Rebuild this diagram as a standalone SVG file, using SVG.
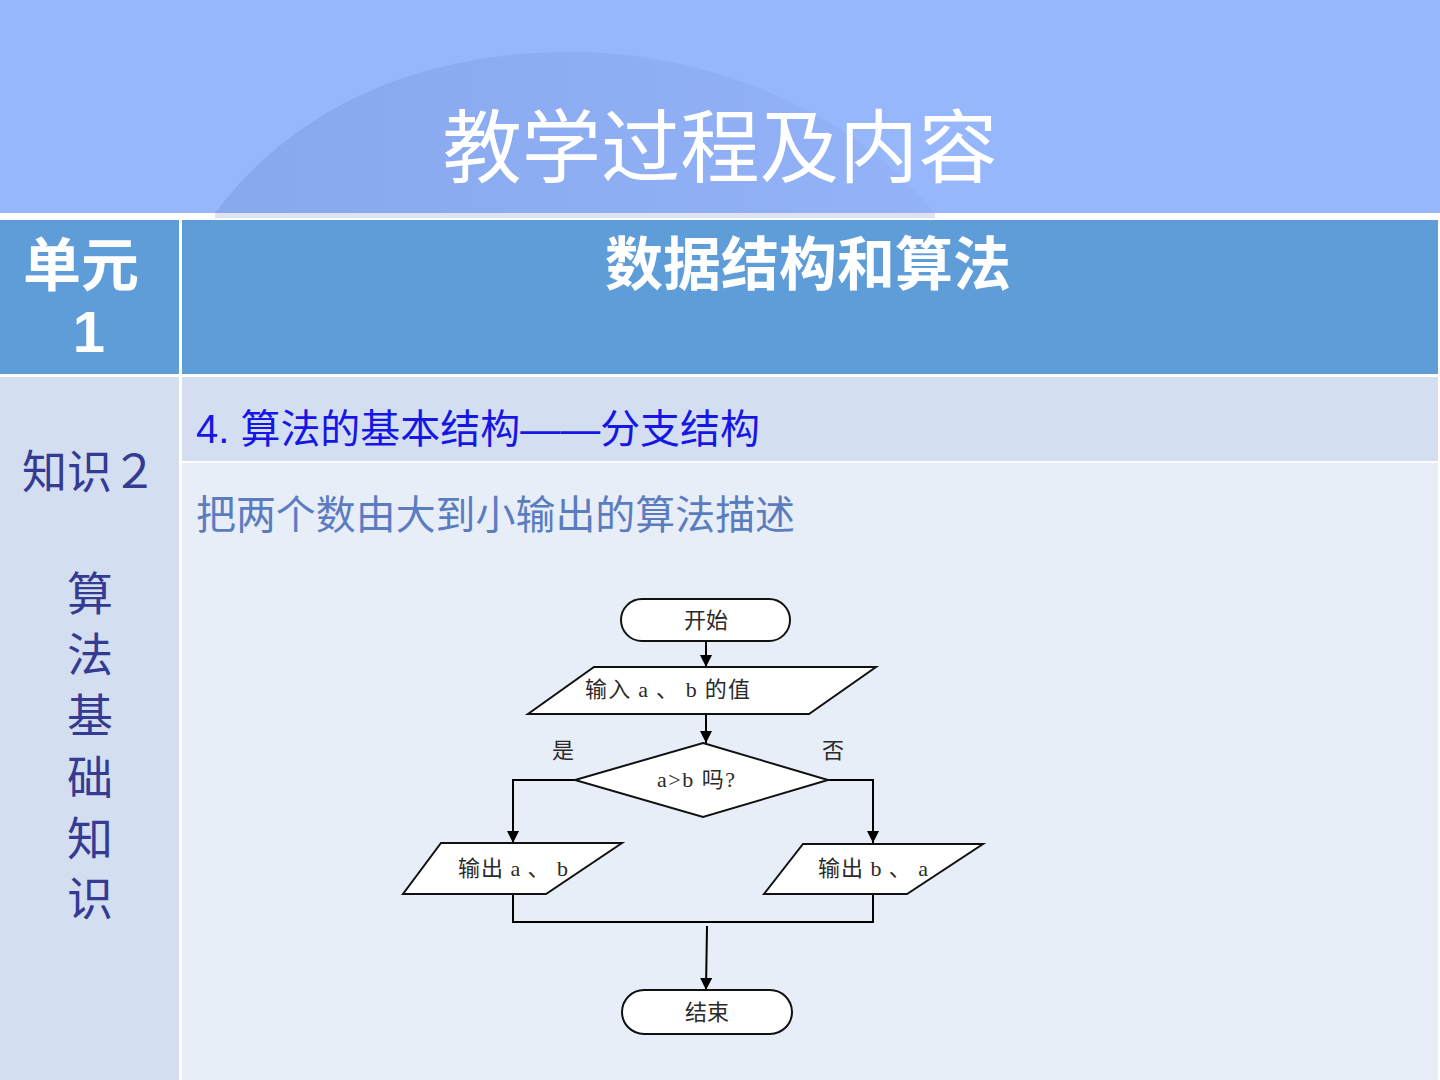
<svg xmlns="http://www.w3.org/2000/svg" width="1440" height="1080" viewBox="0 0 1440 1080">
<defs>
<style>
.sans{font-family:"Liberation Sans","Noto Sans CJK SC",sans-serif;}
.fc{font-family:"Liberation Serif","Noto Sans CJK SC",serif;font-size:22px;fill:#2a2a2a;}
.shape{fill:#ffffff;stroke:#111;stroke-width:2;}
.conn{fill:none;stroke:#000;stroke-width:2;}
.navy{fill:#353a92;font-size:46px;}
</style>
<marker id="arr" viewBox="0 0 10 10" refX="10" refY="5" markerWidth="12" markerHeight="12" markerUnits="userSpaceOnUse" orient="auto">
<path d="M0,0 L10,5 L0,10 Z" fill="#000"/>
</marker>
<linearGradient id="arcg" x1="0" y1="0" x2="1" y2="0">
<stop offset="0" stop-color="#88a8ee"/>
<stop offset="1" stop-color="#93b2f8"/>
</linearGradient>
</defs>

<!-- background -->
<rect x="0" y="0" width="1440" height="1080" fill="#ffffff"/>
<rect x="0" y="0" width="1440" height="213" fill="#97b7fd"/>
<path d="M215,213 C300,100 430,52 570,52 C710,52 850,110 935,213 Z" fill="url(#arcg)"/>
<rect x="215" y="213" width="720" height="5" fill="#dfe4ee"/>

<!-- title -->
<text x="720" y="176" text-anchor="middle" class="sans" font-size="80" fill="#ffffff" textLength="555" lengthAdjust="spacingAndGlyphs">教学过程及内容</text>

<!-- table -->
<g id="table">
<rect x="0" y="220" width="179" height="154" fill="#5f9dd9"/>
<rect x="182" y="220" width="1256" height="154" fill="#5f9dd9"/>
<rect x="0" y="377" width="179" height="703" fill="#d3dff1"/>
<rect x="182" y="377" width="1256" height="84" fill="#d3dff1"/>
<rect x="182" y="463" width="1256" height="617" fill="#e8eef8"/>
</g>

<g id="header-text" class="sans" font-weight="bold" fill="#ffffff">
<text x="81" y="286" font-size="58" text-anchor="middle">单元</text>
<text x="89" y="352" font-size="58" text-anchor="middle">1</text>
<text x="808" y="285" font-size="58" text-anchor="middle">数据结构和算法</text>
</g>

<g id="left-text" class="sans">
<text x="22" y="488" class="navy" textLength="135" lengthAdjust="spacingAndGlyphs">知识２</text>
<text x="90" y="610" class="navy" text-anchor="middle">算</text>
<text x="90" y="671" class="navy" text-anchor="middle">法</text>
<text x="90" y="732" class="navy" text-anchor="middle">基</text>
<text x="90" y="794" class="navy" text-anchor="middle">础</text>
<text x="90" y="855" class="navy" text-anchor="middle">知</text>
<text x="90" y="915" class="navy" text-anchor="middle">识</text>
</g>

<g id="content-text" class="sans">
<text x="196" y="443" font-size="40" fill="#1616e6" textLength="564" lengthAdjust="spacingAndGlyphs">4. 算法的基本结构——分支结构</text>
<text x="196" y="529" font-size="40" fill="#5b7dc0" textLength="599" lengthAdjust="spacingAndGlyphs">把两个数由大到小输出的算法描述</text>
</g>

<!-- connectors -->
<g id="connectors">
<line class="conn" x1="706" y1="641" x2="706" y2="667" marker-end="url(#arr)"/>
<line class="conn" x1="706" y1="714" x2="706" y2="743" marker-end="url(#arr)"/>
<polyline class="conn" points="575,780 513,780 513,843" marker-end="url(#arr)" stroke-width="1.5"/>
<polyline class="conn" points="828,780 873,780 873,843" marker-end="url(#arr)" stroke-width="1.5"/>
<polyline class="conn" points="513,894 513,922 873,922 873,894"/>
<line class="conn" x1="707" y1="926" x2="706" y2="990" marker-end="url(#arr)" stroke-width="1.5"/>
</g>

<!-- nodes -->
<g id="start">
<rect class="shape" x="621" y="599" width="169" height="42" rx="21"/>
<text class="fc" x="706" y="628" text-anchor="middle">开始</text>
</g>
<g id="input">
<polygon class="shape" points="594,667 876,667 809,714 528,714"/>
<text class="fc" x="585" y="697" textLength="165" lengthAdjust="spacing">输入 a 、 b 的值</text>
</g>
<g id="decision">
<polygon class="shape" points="703,743 828,780 703,817 575,780" stroke-width="1.5"/>
<text class="fc" x="657" y="787" textLength="78" lengthAdjust="spacing">a&gt;b 吗?</text>
</g>
<g id="label-yes"><text class="fc" x="563" y="758" text-anchor="middle">是</text></g>
<g id="label-no"><text class="fc" x="833" y="758" text-anchor="middle">否</text></g>
<g id="output-ab">
<polygon class="shape" points="441,843 622,843 546,894 403,894"/>
<text class="fc" x="458" y="876" textLength="110" lengthAdjust="spacing">输出 a 、 b</text>
</g>
<g id="output-ba">
<polygon class="shape" points="803,844 983,844 907,894 764,894"/>
<text class="fc" x="818" y="876" textLength="110" lengthAdjust="spacing">输出 b 、 a</text>
</g>
<g id="end">
<rect class="shape" x="622" y="990" width="170" height="44" rx="22"/>
<text class="fc" x="707" y="1020" text-anchor="middle">结束</text>
</g>
</svg>
